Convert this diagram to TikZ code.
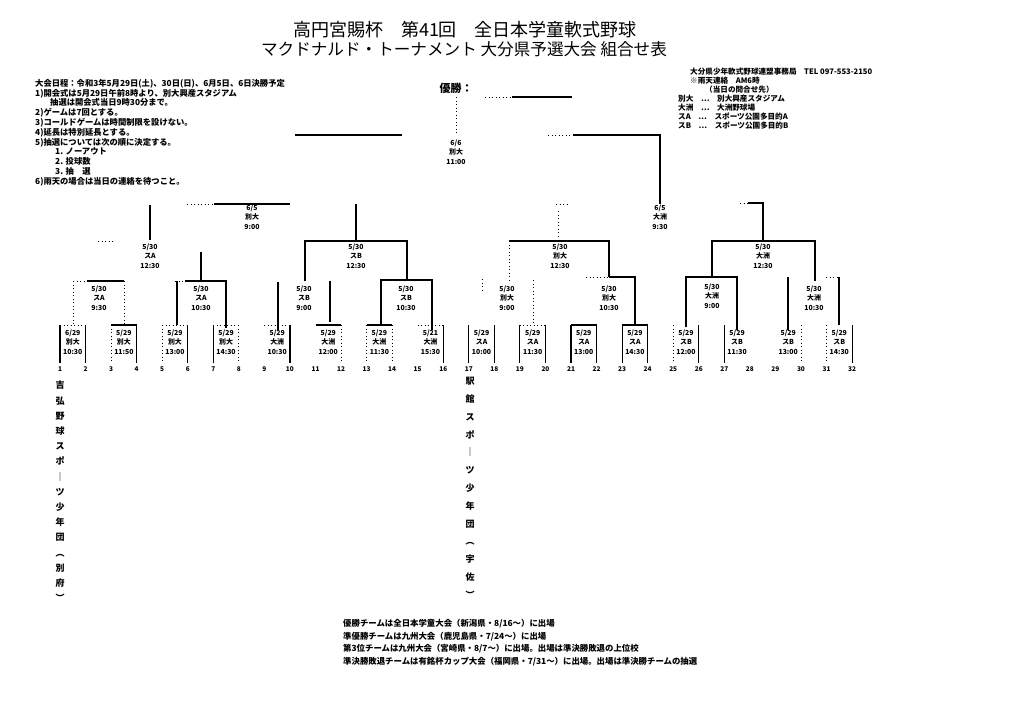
\documentclass[tikz,border=0pt]{standalone}
\usepackage{fontspec}
\setmainfont{Noto Sans CJK JP}
\begin{document}
\begin{tikzpicture}[x=1pt,y=-1pt,
  sl/.style={line width=1.1pt},
  dl/.style={line width=0.9pt, dash pattern=on 1pt off 2.5pt},
  lab/.style={font=\bfseries\fontsize{6.9}{9.5}\selectfont, align=center, inner sep=0pt},
  num/.style={font=\bfseries\fontsize{6.5}{8}\selectfont, inner sep=0pt},
  note/.style={font=\bfseries\fontsize{8.3}{9.8}\selectfont, align=left, inner sep=0pt, anchor=north west},
  vname/.style={align=center, inner sep=0pt, anchor=north}]
\useasboundingbox[fill=white] (0,0) rectangle (1024,724);

% titles
\node[font=\fontsize{18}{20}\selectfont, inner sep=0pt] (title1) at (465,30) {高円宮賜杯　第41回　全日本学童軟式野球};
\node[font=\fontsize{16.6}{20}\selectfont, inner sep=0pt] (title2) at (464,49) {マクドナルド・トーナメント 大分県予選大会 組合せ表};

% left notes
\node[note] (notes) at (35,79) {大会日程：令和3年5月29日(土)、30日(日)、6月5日、6日決勝予定\\
1)開会式は5月29日午前8時より、別大興産スタジアム\\
\hspace*{15pt}抽選は開会式当日9時30分まで。\\
2)ゲームは7回とする。\\
3)コールドゲームは時間制限を設けない。\\
4)延長は特別延長とする。\\
5)抽選については次の順に決定する。\\
\hspace*{20pt}1. ノーアウト\\
\hspace*{20pt}2. 投球数\\
\hspace*{20pt}3. 抽　選\\
6)雨天の場合は当日の連絡を待つこと。};

% right notes
\node[font=\bfseries\fontsize{7.6}{9}\selectfont, align=left, inner sep=0pt, anchor=north west] (rnotes) at (678,68) {\hspace*{12pt}大分県少年軟式野球連盟事務局　TEL 097-553-2150\\
\hspace*{12pt}※雨天連絡　AM6時\\
\hspace*{27pt}（当日の問合せ先）\\
別大　…　別大興産スタジアム\\
大洲　…　大洲野球場\\
スA　…　スポーツ公園多目的A\\
スB　…　スポーツ公園多目的B};

% champion
\node[font=\bfseries\fontsize{11}{12}\selectfont, inner sep=0pt] (champ) at (456,88) {優勝：};
\coordinate (cl0) at (485,97);
\coordinate (cl1) at (512,97);
\coordinate (cl2) at (572,97);
\draw[dl] (cl0) -- (cl1);
\draw[sl] (cl1) -- (cl2);
\draw[dl] (456,97) -- (456,135);

% final
\draw[sl] (295,135) -- (402,135);
\draw[dl] (548,135) -- (573,135);
\draw[sl] (573,135) -- (660,135) -- (660,204);
\node[lab] (fin) at (456,152) {6/6\\別大\\11:00};

% semifinals
\draw[dl] (187,204) -- (214,204);
\draw[sl] (214,204) -- (290,204);
\draw[sl] (150,205) -- (150,240);
\draw[sl] (356,204) -- (356,241);
\node[lab] (sf1) at (252,217) {6/5\\別大\\9:00};
\draw[dl] (556,204) -- (568,204);
\draw[dl] (558,211) -- (558,238);
\draw[dl] (740,203) -- (748,203);
\draw[sl] (748,203) -- (763,203) -- (763,241);
\node[lab] (sf2) at (660,217) {6/5\\大洲\\9:30};

% quarterfinals
\draw[dl] (98,241) -- (113,241);
\draw[sl] (201,252) -- (201,281);
\node[lab] (qf1) at (150,256) {5/30\\スA\\12:30};
\draw[sl] (305,281) -- (305,241) -- (407,241) -- (407,281);
\node[lab] (qf2) at (356,256) {5/30\\スB\\12:30};
\draw[dl] (509,241) -- (509,281);
\draw[sl] (509,241) -- (609,241) -- (609,277);
\node[lab] (qf3) at (560,256) {5/30\\別大\\12:30};
\draw[sl] (712,277) -- (712,241) -- (815,241) -- (815,281);
\node[lab] (qf4) at (763,256) {5/30\\大洲\\12:30};

% round 2
\draw[dl] (73,281) -- (87,281);
\draw[sl] (87,281) -- (124,281);
\draw[dl] (73,281) -- (73,325);
\draw[dl] (124,281) -- (124,325);
\node[lab] (r2a) at (99,298) {5/30\\スA\\9:30};
\draw[dl] (175,281) -- (185,281);
\draw[sl] (185,281) -- (226,281) -- (226,328);
\draw[sl] (177,281) -- (177,325);
\node[lab] (r2b) at (201,298) {5/30\\スA\\10:30};
\draw[sl] (278,282) -- (278,330);
\draw[sl] (330,281) -- (330,322);
\node[lab] (r2c) at (304,298) {5/30\\スB\\9:00};
\draw[sl] (381,325) -- (381,280) -- (432,280) -- (432,330);
\node[lab] (r2d) at (406,298) {5/30\\スB\\10:30};
\draw[dl] (482,279) -- (482,292);
\draw[dl] (533,280) -- (533,325);
\node[lab] (r2e) at (507,298) {5/30\\別大\\9:00};
\draw[dl] (586,277) -- (609,277);
\draw[sl] (609,277) -- (635,277) -- (635,325);
\node[lab] (r2f) at (609,298) {5/30\\別大\\10:30};
\draw[sl] (686,327) -- (686,277) -- (737,277) -- (737,330);
\node[lab] (r2g) at (712,296) {5/30\\大洲\\9:00};
\draw[sl] (788,277) -- (788,330);
\draw[dl] (826,277) -- (839,277);
\draw[sl] (839,277) -- (839,325);
\node[lab] (r2h) at (814,298) {5/30\\大洲\\10:30};

% round 1 leaves
\foreach \i in {1,2,4,6,7,10,16,17,18,19,20,21,22,23,24,26,27,32}
  \draw[sl] ({60+(\i-1)*25.55},325) -- ({60+(\i-1)*25.55},363);
\foreach \i in {3,5,8,12,13,14,25,30,31}
  \draw[dl] ({60+(\i-1)*25.55},325) -- ({60+(\i-1)*25.55},363);
\foreach \k in {2,6,7,11,12}
  \draw[sl] ({60+(2*\k-2)*25.55},325) -- ({60+(2*\k-1)*25.55},325);
\foreach \k in {1,3,4,5,8,10}
  \draw[dl] ({60+(2*\k-2)*25.55},325) -- ({60+(2*\k-1)*25.55},325);

% round 1 labels
\foreach \k/\d/\v/\t in {1/6\slash 29/別大/10:30, 2/5\slash 29/別大/11:50, 3/5\slash 29/別大/13:00, 4/5\slash 29/別大/14:30,
  5/5\slash 29/大洲/10:30, 6/5\slash 29/大洲/12:00, 7/5\slash 29/大洲/11:30, 8/5\slash 21/大洲/15:30,
  9/5\slash 29/スA/10:00, 10/5\slash 29/スA/11:30, 11/5\slash 29/スA/13:00, 12/5\slash 29/スA/14:30,
  13/5\slash 29/スB/12:00, 14/5\slash 29/スB/11:30, 15/5\slash 29/スB/13:00, 16/5\slash 29/スB/14:30}
  \node[lab] (r1\k) at ({60+(2*\k-1.5)*25.55},342) {\d\\\v\\\t};

% team numbers
\foreach \i in {1,...,32}
  \node[num] (n\i) at ({60+(\i-1)*25.55},369) {\i};

% vertical team names
\node[vname, font=\bfseries\fontsize{9}{15.2}\selectfont] (team1) at (60,381) {吉\\弘\\野\\球\\ス\\ポ\\｜\\ツ\\少\\年\\団\\︵\\別\\府\\︶};
\node[vname, font=\bfseries\fontsize{9}{17.8}\selectfont] (team17) at (470,377) {駅\\館\\ス\\ポ\\｜\\ツ\\少\\年\\団\\︵\\宇\\佐\\︶};

% bottom notes
\node[font=\bfseries\fontsize{8.4}{12.7}\selectfont, align=left, inner sep=0pt, anchor=north west] (bnotes) at (343,619) {優勝チームは全日本学童大会（新潟県・8/16～）に出場\\
準優勝チームは九州大会（鹿児島県・7/24～）に出場\\
第3位チームは九州大会（宮崎県・8/7～）に出場。出場は準決勝敗退の上位校\\
準決勝敗退チームは有銘杯カップ大会（福岡県・7/31～）に出場。出場は準決勝チームの抽選};
\end{tikzpicture}
\end{document}
